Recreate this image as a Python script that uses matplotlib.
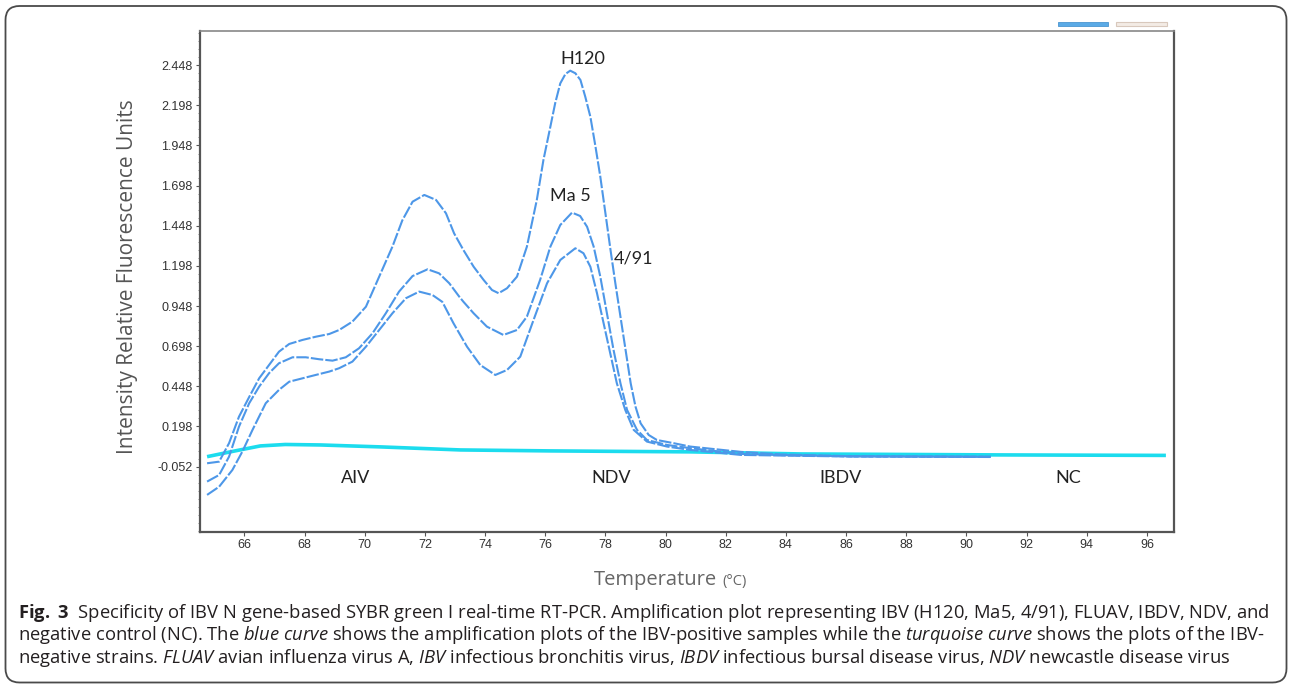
import numpy as np
import matplotlib
matplotlib.use('Agg')
import matplotlib.pyplot as plt
from matplotlib.patches import FancyBboxPatch, Rectangle
from matplotlib.transforms import IdentityTransform

# Melt curves of the IBV-positive samples (temperature in degC, RFU)
temp_h120 = [64.76, 65.16, 65.49, 65.82, 66.16, 66.49, 66.82, 67.15, 67.49, 67.93, 68.37,
             68.82, 69.15, 69.59, 70.04, 70.48, 70.92, 71.25, 71.59, 71.98, 72.37, 72.70,
             72.97, 73.28, 73.62, 73.95, 74.23, 74.45, 74.73, 75.06, 75.39, 75.72, 75.94,
             76.17, 76.33, 76.50, 76.67, 76.83, 77.00, 77.17, 77.33, 77.50, 77.67, 77.83,
             78.00, 78.17, 78.33, 78.50, 78.67, 78.84, 79.00, 79.17, 79.44, 79.71, 80.27,
             80.82, 82.50, 83.83, 86.16, 90.81]
rfu_h120 = [-0.031, -0.021, 0.094, 0.259, 0.382, 0.498, 0.581, 0.664, 0.712, 0.737, 0.757,
            0.774, 0.799, 0.851, 0.944, 1.131, 1.318, 1.482, 1.598, 1.640, 1.609, 1.526,
            1.401, 1.297, 1.193, 1.111, 1.048, 1.028, 1.059, 1.131, 1.318, 1.609, 1.858,
            2.065, 2.211, 2.335, 2.393, 2.414, 2.398, 2.356, 2.252, 2.127, 1.941, 1.754,
            1.526, 1.297, 1.090, 0.882, 0.675, 0.467, 0.322, 0.218, 0.145, 0.114, 0.094,
            0.073, 0.040, 0.024, 0.013, 0.010]

temp_ma5 = [64.76, 65.16, 65.49, 65.82, 66.16, 66.49, 66.82, 67.15, 67.60, 68.04, 68.48,
            68.93, 69.37, 69.81, 70.26, 70.70, 71.14, 71.59, 72.09, 72.47, 72.81, 73.14,
            73.28, 73.62, 74.06, 74.61, 75.06, 75.39, 75.83, 76.17, 76.50, 76.89, 77.16,
            77.39, 77.61, 77.83, 78.05, 78.27, 78.50, 78.72, 79.05, 79.38, 80.05, 80.82,
            82.50, 83.83, 86.16, 90.81]
rfu_ma5 = [-0.145, -0.104, 0.010, 0.197, 0.343, 0.446, 0.530, 0.592, 0.629, 0.629, 0.617,
           0.608, 0.629, 0.685, 0.779, 0.903, 1.038, 1.135, 1.177, 1.152, 1.090, 1.007,
           0.975, 0.903, 0.820, 0.768, 0.799, 0.882, 1.111, 1.318, 1.453, 1.530, 1.509,
           1.442, 1.318, 1.131, 0.903, 0.675, 0.467, 0.301, 0.177, 0.114, 0.083, 0.063,
           0.027, 0.020, 0.012, 0.009]

temp_491 = [64.76, 65.16, 65.60, 65.93, 66.27, 66.71, 67.15, 67.49, 67.93, 68.37, 68.82,
            69.15, 69.59, 70.04, 70.48, 70.92, 71.37, 71.81, 72.25, 72.58, 72.95, 73.40,
            73.84, 74.34, 74.73, 75.17, 75.61, 76.06, 76.50, 77.00, 77.27, 77.50, 77.72,
            77.94, 78.16, 78.38, 78.66, 78.94, 79.38, 80.05, 80.82, 82.50, 83.83, 86.16,
            90.81]
rfu_491 = [-0.228, -0.177, -0.073, 0.041, 0.177, 0.343, 0.426, 0.477, 0.498, 0.519, 0.540,
           0.561, 0.602, 0.695, 0.799, 0.903, 0.997, 1.038, 1.017, 0.974, 0.841, 0.695,
           0.581, 0.519, 0.550, 0.633, 0.861, 1.090, 1.235, 1.308, 1.277, 1.193, 1.028,
           0.841, 0.654, 0.467, 0.301, 0.177, 0.104, 0.073, 0.052, 0.021, 0.017, 0.011,
           0.008]

# IBV-negative strains (AIV, NDV, IBDV, NC) overlap as one flat trace
temp_neg = [64.76, 65.53, 66.53, 67.36, 68.53, 70.52, 73.18, 76.18, 80.83, 84.49, 91.14, 96.63]
rfu_neg = [0.010, 0.040, 0.077, 0.086, 0.083, 0.071, 0.052, 0.046, 0.040, 0.027, 0.021, 0.018]

curve_names = ['H120', 'Ma 5', '4/91']
curve_name_x = [77.26, 76.84, 78.94]
curve_name_y = [2.485, 1.634, 1.246]

neg_names = ['AIV', 'NDV', 'IBDV', 'NC']
neg_name_x = [69.7, 78.2, 85.8, 93.4]
neg_name_y = -0.125

yticks = -0.052 + 0.25 * np.arange(11)
yminor = -0.452 + 0.05 * np.arange(63)
xticks = np.arange(66, 97, 2)

plt.rcParams['mathtext.fontset'] = 'custom'
plt.rcParams['mathtext.rm'] = 'Open Sans'
plt.rcParams['mathtext.it'] = 'Open Sans:italic'
plt.rcParams['mathtext.bf'] = 'Open Sans:bold'

fig = plt.figure(figsize=(12.9, 6.86), dpi=100)
ax = fig.add_axes([0.1547, 0.2245, 0.7554, 0.7303])

blue = '#4d97e8'
ax.plot(temp_neg, rfu_neg, color='#1cdcee', lw=2.6, zorder=2, solid_capstyle='butt')
for t, r in [(temp_h120, rfu_h120), (temp_ma5, rfu_ma5), (temp_491, rfu_491)]:
    ax.plot(t, r, color=blue, lw=1.5, ls=(0, (6, 1)), zorder=3)

for name, x, y in zip(curve_names, curve_name_x, curve_name_y):
    ax.text(x, y, name, ha='center', va='center', fontsize=13, family='Lato', color='#222222')
for name, x in zip(neg_names, neg_name_x):
    ax.text(x, neg_name_y, name, ha='center', va='center', fontsize=13, family='Lato', color='#222222')

ax.set_xlim(64.51, 96.90)
ax.set_ylim(-0.459, 2.661)
ax.set_xticks(xticks)
ax.set_yticks(yticks)
ax.set_yticks(yminor, minor=True)
ax.set_yticklabels([f'{v:.3f}' for v in yticks])
ax.tick_params(direction='out', length=3, width=0.8, color='#555555', labelsize=9,
               labelcolor='#333333', pad=2)
ax.tick_params(axis='y', which='minor', length=1.5, width=0.6, color='#777777')
for lab in ax.get_xticklabels() + ax.get_yticklabels():
    lab.set_family('Liberation Sans')

for side in ['left', 'bottom', 'right']:
    ax.spines[side].set_color('#555555')
    ax.spines[side].set_linewidth(1.6)
ax.spines['top'].set_color('#888888')
ax.spines['top'].set_linewidth(1.2)

fig.text(128 / 1290, 1 - 277 / 686, 'Intensity Relative Fluorescence Units', rotation=90,
         ha='center', va='center', fontsize=15, family='Open Sans', color='#555555')
fig.text(717 / 1290, 1 - 580 / 686, 'Temperature', ha='right', va='center',
         fontsize=14.5, family='Open Sans', color='#666666')
fig.text(722 / 1290, 1 - 581 / 686, '(°C)', ha='left', va='center',
         fontsize=10.5, family='Open Sans', color='#666666')

caption = [
    r'$\mathbf{Fig.\ 3}$  Specificity of IBV N gene-based SYBR green I real-time RT-PCR. '
    r'Amplification plot representing IBV (H120, Ma5, 4/91), FLUAV, IBDV, NDV, and',
    r'negative control (NC). The $\mathit{blue\ curve}$ shows the amplification plots of the '
    r'IBV-positive samples while the $\mathit{turquoise\ curve}$ shows the plots of the IBV-',
    r'negative strains. $\mathit{FLUAV}$ avian influenza virus A, $\mathit{IBV}$ infectious '
    r'bronchitis virus, $\mathit{IBDV}$ infectious bursal disease virus, $\mathit{NDV}$ '
    r'newcastle disease virus',
]
for i, line in enumerate(caption):
    fig.text(18 / 1290, 1 - (618 + 22.5 * i) / 686, line, ha='left', va='baseline',
             fontsize=13.2, family='Open Sans', color='#231f20')

# frame around the figure and the two small tabs at the top right
fig.add_artist(FancyBboxPatch((5.5, 3.5), 1281, 676.5, boxstyle='round,pad=0,rounding_size=14',
                              transform=IdentityTransform(), facecolor='none',
                              edgecolor='#4a4a4a', linewidth=1.3))
fig.add_artist(Rectangle((1058, 660), 50, 4, transform=IdentityTransform(),
                         facecolor='#5aaae6', edgecolor='#4a95d0', linewidth=0.6))
fig.add_artist(Rectangle((1116, 660), 51, 4, transform=IdentityTransform(),
                         facecolor='#f3ebe5', edgecolor='#d8c8bc', linewidth=0.8))

fig.savefig('out.png', dpi=100)
